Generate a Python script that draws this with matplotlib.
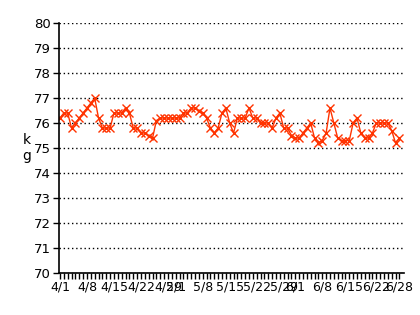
import numpy as np
import pandas as pd
import matplotlib
matplotlib.use("Agg")
import matplotlib.pyplot as plt

# daily weight readings, 4/1 .. 6/28
dates = pd.date_range("2001-04-01", "2001-06-28", freq="D")
weight = [
    76.2, 76.4, 76.4, 75.8, 76.0, 76.2, 76.4, 76.6, 76.8, 77.0,
    76.2, 75.8, 75.8, 75.8, 76.4, 76.4, 76.4, 76.6, 76.4, 75.8,
    75.8, 75.6, 75.6, 75.5, 75.4, 76.1, 76.2, 76.2, 76.2, 76.2,
    76.2, 76.2, 76.4, 76.4, 76.6, 76.6, 76.5, 76.4, 76.2, 75.8,
    75.6, 75.8, 76.4, 76.6, 76.0, 75.6, 76.2, 76.2, 76.2, 76.6,
    76.2, 76.2, 76.0, 76.0, 76.0, 75.8, 76.2, 76.4, 75.8, 75.8,
    75.5, 75.4, 75.4, 75.6, 75.8, 76.0, 75.4, 75.2, 75.3, 75.6,
    76.6, 76.0, 75.4, 75.3, 75.3, 75.3, 76.0, 76.2, 75.6, 75.4,
    75.4, 75.6, 76.0, 76.0, 76.0, 76.0, 75.7, 75.2, 75.4,
]
tick_labels = ["4/1", "4/8", "4/15", "4/22", "4/29", "5/1", "5/8", "5/15",
               "5/22", "5/29", "6/1", "6/8", "6/15", "6/22", "6/28"]

day = np.arange(len(dates))
label_pos = [(pd.Timestamp("2001/" + s) - dates[0]).days for s in tick_labels]

fig = plt.figure(figsize=(4.2, 3.15), dpi=100)
ax = fig.add_axes([0.140, 0.133, 0.822, 0.794])

ax.plot(day, weight, color="#ff3300", linewidth=1, marker="x",
        markersize=6, markeredgewidth=1)

ax.set_ylim(70, 80)
ax.set_yticks(range(70, 81))
ax.set_xlim(-0.3, 89.2)
ax.set_xticks(day, minor=True)
ax.set_xticks(label_pos)
ax.set_xticklabels(tick_labels)
ax.tick_params(axis="x", which="both", length=4, width=1, labelsize=9, pad=1)
ax.tick_params(axis="y", length=4, width=1, labelsize=9.5, pad=2)

ax.grid(axis="y", color="black", linestyle=(0, (1, 2)), linewidth=1)
ax.set_axisbelow(True)
for side in ["top", "right"]:
    ax.spines[side].set_visible(False)
for side in ["left", "bottom"]:
    ax.spines[side].set_linewidth(1.2)

ax.set_ylabel("k\ng", rotation=0, fontsize=10, labelpad=5, va="center")

fig.savefig("out.png", dpi=100)
